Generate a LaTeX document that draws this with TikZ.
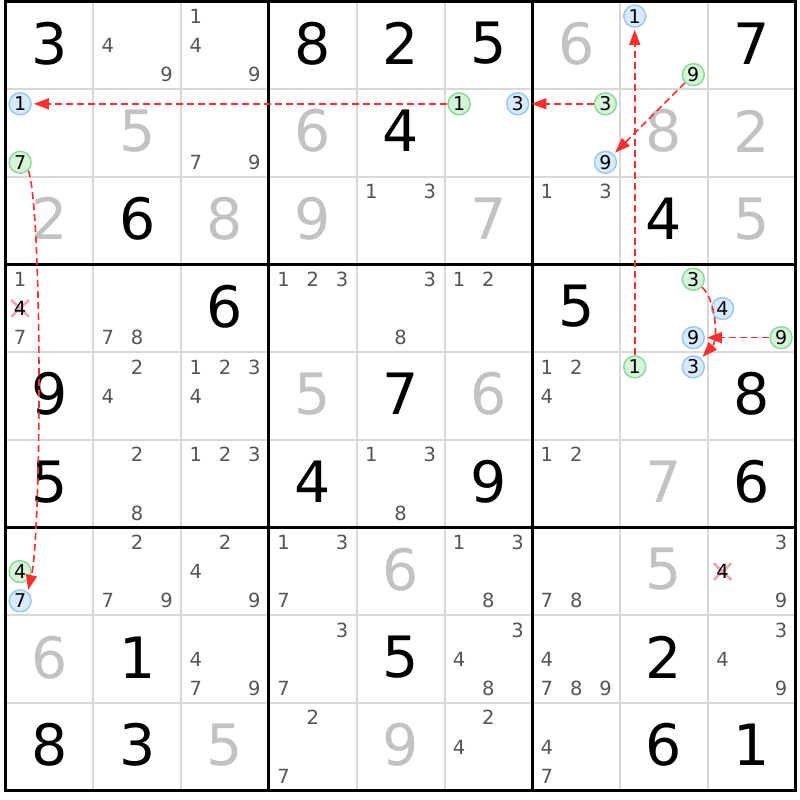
\documentclass[tikz,border=0pt]{standalone}
\usepackage{fontspec}
\setmainfont{DejaVu Sans}
\usetikzlibrary{arrows.meta, shapes.misc, calc}

\definecolor{solvedgray}{HTML}{C2C2C2}
\definecolor{candgray}{HTML}{555555}
\definecolor{gridgray}{HTML}{D8D8D8}
\definecolor{onfill}{HTML}{D6F5D8}
\definecolor{ondraw}{HTML}{86DA96}
\definecolor{offfill}{HTML}{D8EAFF}
\definecolor{offdraw}{HTML}{96C6F4}
\definecolor{linkred}{HTML}{FF2E2E}
\definecolor{crosspink}{HTML}{F5A3AE}

\newcommand{\gridx}{5.5}
\newcommand{\gridy}{1.5}
\newcommand{\cellw}{87.8}
\newcommand{\cellh}{87.7}

\tikzset{
  givendigit/.style={inner sep=0pt, font=\fontsize{57}{57}\selectfont},
  solveddigit/.style={givendigit, text=solvedgray},
  candidate/.style={inner sep=0pt, font=\fontsize{19.5}{19.5}\selectfont, text=candgray},
  oncand/.style={circle, draw=ondraw, fill=onfill, line width=1.4pt, minimum size=22pt, inner sep=0pt, font=\fontsize{19}{19}\selectfont},
  offcand/.style={oncand, draw=offdraw, fill=offfill},
  elimmark/.style={cross out, draw=crosspink, line width=2.6pt, minimum width=15pt, minimum height=14pt, inner sep=0pt},
  thinline/.style={draw=gridgray, line width=2pt},
  boxline/.style={draw=black, line width=3pt},
  chainlink/.style={draw=linkred, line width=1.6pt, dash pattern=on 7pt off 4pt, -{Triangle[length=15pt,width=11pt]}, shorten >=2pt},
}

\begin{document}
\begin{tikzpicture}[x=1pt, y=-1pt]
	\fill[white] (0,0) rectangle (800,800);
	\useasboundingbox (0,0) rectangle (800,800);
	% grid
	\foreach \k in {1,...,8} {
		\draw[thinline] ({\gridx+\k*\cellw},\gridy) -- ({\gridx+\k*\cellw},{\gridy+9*\cellh});
		\draw[thinline] (\gridx,{\gridy+\k*\cellh}) -- ({\gridx+9*\cellw},{\gridy+\k*\cellh});
	}
	\foreach \k in {3,6} {
		\draw[boxline] ({\gridx+\k*\cellw},\gridy) -- ({\gridx+\k*\cellw},{\gridy+9*\cellh});
		\draw[boxline] (\gridx,{\gridy+\k*\cellh}) -- ({\gridx+9*\cellw},{\gridy+\k*\cellh});
	}
	\draw[boxline] (\gridx,\gridy) rectangle ({\gridx+9*\cellw},{\gridy+9*\cellh});
	% givens and solved cells
	\foreach \i/\j/\d in {1/1/3, 1/4/8, 1/5/2, 1/6/5, 1/9/7, 2/5/4, 3/2/6, 3/8/4, 4/3/6, 4/7/5,
		5/1/9, 5/5/7, 5/9/8, 6/1/5, 6/4/4, 6/6/9, 6/9/6, 8/2/1, 8/5/5, 8/8/2, 9/1/8, 9/2/3, 9/8/6, 9/9/1}
		\node[givendigit] (v\i\j) at ({\gridx+(\j-0.5)*\cellw},{\gridy+(\i-0.5)*\cellh-2}) {\d};
	\foreach \i/\j/\d in {1/7/6, 2/2/5, 2/4/6, 2/8/8, 2/9/2, 3/1/2, 3/3/8, 3/4/9, 3/6/7, 3/9/5,
		5/4/5, 5/6/6, 6/8/7, 7/5/6, 7/8/5, 8/1/6, 9/3/5, 9/5/9}
		\node[solveddigit] (v\i\j) at ({\gridx+(\j-0.5)*\cellw},{\gridy+(\i-0.5)*\cellh-2}) {\d};
	% candidates
	\foreach \i/\j/\ds in {1/2/{4,9}, 1/3/{1,4,9}, 2/3/{7,9}, 3/5/{1,3}, 3/7/{1,3}, 4/1/{1,7}, 4/2/{7,8},
		4/4/{1,2,3}, 4/5/{3,8}, 4/6/{1,2}, 5/2/{2,4}, 5/3/{1,2,3,4}, 5/7/{1,2,4}, 6/2/{2,8}, 6/3/{1,2,3},
		6/5/{1,3,8}, 6/7/{1,2}, 7/2/{2,7,9}, 7/3/{2,4,9}, 7/4/{1,3,7}, 7/6/{1,3,8}, 7/7/{7,8}, 7/9/{3,9},
		8/3/{4,7,9}, 8/4/{3,7}, 8/6/{3,4,8}, 8/7/{4,7,8,9}, 8/9/{3,4,9}, 9/4/{2,7}, 9/6/{2,4}, 9/7/{4,7}} {
		\foreach \d in \ds
			\node[candidate] (c\i\j\d) at ({\gridx+(\j-1)*\cellw+(2*mod(\d-1,3)+1)*\cellw/6},{\gridy+(\i-1)*\cellh+(2*int((\d-1)/3)+1)*\cellh/6}) {\d};
	}
	% eliminated
	\foreach \i/\j in {4/1, 7/9} {
		\coordinate (p\i\j) at ({\gridx+(\j-1)*\cellw+\cellw/6},{\gridy+(\i-1)*\cellh+\cellh/2});
		\node[elimmark] at (p\i\j) {};
		\node[candidate, text=black] (e\i\j) at (p\i\j) {4};
	}
	% chain
	\foreach \i/\j/\d/\kind in {2/1/1/offcand, 2/1/7/oncand, 2/6/1/oncand, 2/6/3/offcand, 2/7/3/oncand,
		2/7/9/offcand, 1/8/1/offcand, 1/8/9/oncand, 4/8/3/oncand, 4/8/9/offcand, 4/9/4/offcand,
		4/9/9/oncand, 5/8/1/oncand, 5/8/3/offcand, 7/1/4/oncand, 7/1/7/offcand}
		\node[\kind] (n\i\j\d) at ({\gridx+(\j-1)*\cellw+(2*mod(\d-1,3)+1)*\cellw/6},{\gridy+(\i-1)*\cellh+(2*int((\d-1)/3)+1)*\cellh/6}) {\d};
	\draw[chainlink] (n261) -- (n211);
	\draw[chainlink] (n273) -- (n263);
	\draw[chainlink] (n189) -- (n279);
	\draw[chainlink] (n581) -- (n181);
	\draw[chainlink] (n499) -- (n489);
	\draw[chainlink] (n483) .. controls +(23,21) and +(25,-27) .. (n583);
	\draw[chainlink] (n217.-45) .. controls +(14,40) and +(14,-60) .. (n717.50);
\end{tikzpicture}
\end{document}
